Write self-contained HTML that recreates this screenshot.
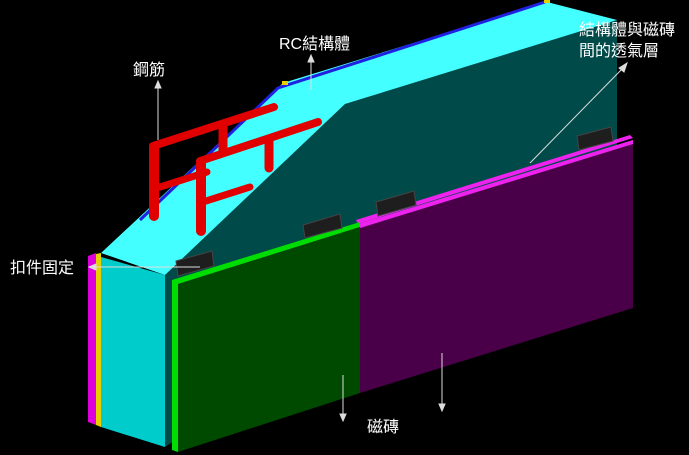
<!DOCTYPE html>
<html><head><meta charset="utf-8"><style>
html,body{margin:0;padding:0;background:#000;width:689px;height:455px;overflow:hidden}
svg{display:block}
text{font-family:"Liberation Sans","Noto Sans CJK TC",sans-serif;fill:#fff;font-size:16px}
</style></head><body>
<svg width="689" height="455" viewBox="0 0 689 455">
<rect width="689" height="455" fill="#000"/>
<polygon points="88,256 96,253 96,425 88,422" fill="#dd00dd"/>
<polygon points="96,254 101,253 101,427 96,425" fill="#e8d000"/>
<polygon points="165,275 345,104 617,20 617,145 165,447" fill="#004a4a"/>
<polygon points="101,253 283,83 547,2 617,20 345,104 165,275" fill="#44ffff"/>
<polygon points="101,257 165,275 165,447 101,427" fill="#00cccc"/>
<polyline points="140,220 278,88 545,2" fill="none" stroke="#2020e0" stroke-width="3"/>
<rect x="282" y="81" width="6" height="4" fill="#e8d000"/>
<rect x="544" y="0" width="6" height="3" fill="#e8d000"/>
<g stroke="#e00000" stroke-linecap="round" fill="none">
<line x1="223" y1="128" x2="223" y2="152" stroke-width="9"/>
<line x1="269" y1="141" x2="269" y2="168" stroke-width="9"/>
<line x1="153" y1="146" x2="274" y2="107" stroke-width="8"/>
<line x1="160" y1="187" x2="207" y2="172" stroke-width="7"/>
<line x1="154" y1="148" x2="154" y2="216" stroke-width="10"/>
<line x1="200" y1="161" x2="318" y2="122" stroke-width="8"/>
<line x1="206" y1="201" x2="250" y2="187" stroke-width="7"/>
<line x1="201" y1="163" x2="201" y2="231" stroke-width="10"/>
</g>
<polygon points="360,224 633,140 633,308 360,393" fill="#4a0048"/>
<polygon points="356,220 630,135 633,138 358,224" fill="#ee22ee"/>
<polygon points="358,224 633,140 633,144 360,228" fill="#ee22ee"/>
<polygon points="172,280 360,222 360,227 178,284 178,452 172,450" fill="#00dd00"/>
<polygon points="178,284 360,227 360,393 178,452" fill="#004a00"/>
<g fill="#1e1e1e" stroke="#444" stroke-width="1">
<polygon points="176,261 212,251 214,266 178,276"/>
<polygon points="303,225 340,214 342,228 305,238"/>
<polygon points="376,202 414,191 416,205 378,216"/>
<polygon points="577,136 611,127 613,141 579,150"/>
</g>
<g stroke="#ddd" stroke-width="1" fill="#ddd">
<line x1="158" y1="140" x2="158" y2="86"/><polygon points="155,88 161,88 158,81"/>
<line x1="311" y1="90" x2="311" y2="60"/><polygon points="308,62 314,62 311,55"/>
<line x1="530" y1="163" x2="623" y2="68"/><polygon points="619,68 624,72 627,63"/>
<line x1="200" y1="267" x2="94" y2="267"/><polygon points="96,264 96,270 89,267"/>
<line x1="343" y1="375" x2="343" y2="416"/><polygon points="340,414 346,414 343,421"/>
<line x1="442" y1="353" x2="442" y2="406"/><polygon points="439,404 445,404 442,411"/>
</g>
<text x="279" y="49">RC結構體</text>
<text x="133" y="75">鋼筋</text>
<text x="579" y="35">結構體與磁磚</text>
<text x="579" y="56">間的透氣層</text>
<text x="10" y="273">扣件固定</text>
<text x="367" y="432">磁磚</text>
</svg>
</body></html>
